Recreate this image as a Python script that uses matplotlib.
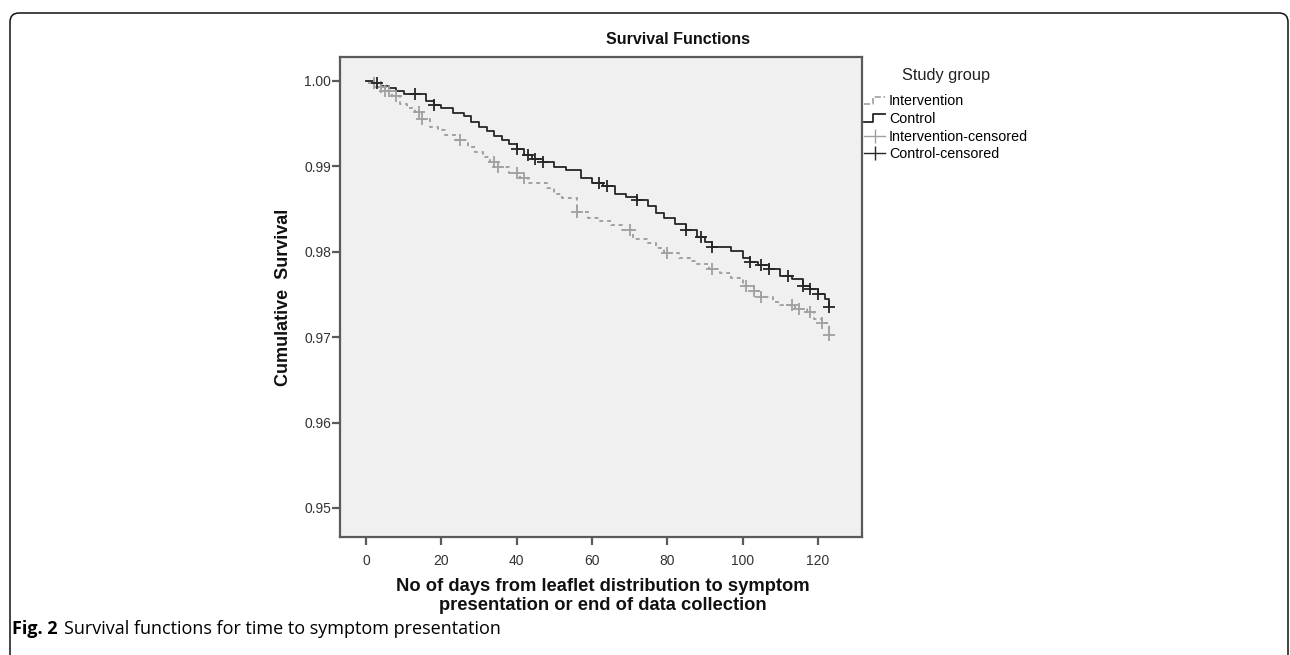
"""
Kaplan-Meier style survival functions (time to symptom presentation),
intervention vs control, with censoring marks.
"""

import numpy as np
import matplotlib
matplotlib.use("Agg")
import matplotlib.pyplot as plt
from matplotlib.lines import Line2D
from matplotlib.legend_handler import HandlerBase
from matplotlib.patches import FancyBboxPatch

# step data: (day of event, survival after the drop)
control_t = [0, 2, 4, 6, 8, 10, 16, 18, 20, 23, 26, 28, 30, 32, 34, 36, 38, 40,
             42, 44, 47, 50, 53, 57, 60, 63, 66, 69, 72, 75, 77, 79, 82, 85, 88,
             90, 92, 97, 100, 102, 104, 107, 110, 113, 116, 118, 120, 122, 123]
control_s = [1.0000, 0.9997, 0.9994, 0.9992, 0.9988, 0.9985, 0.9977, 0.9972,
             0.9968, 0.9963, 0.9959, 0.9952, 0.9946, 0.9941, 0.9936, 0.9931,
             0.9926, 0.9920, 0.9913, 0.9909, 0.9905, 0.9899, 0.9896, 0.9886,
             0.9881, 0.9877, 0.9868, 0.9864, 0.9860, 0.9853, 0.9845, 0.9840,
             0.9832, 0.9825, 0.9817, 0.9811, 0.9805, 0.9801, 0.9793, 0.9788,
             0.9784, 0.9780, 0.9772, 0.9768, 0.9760, 0.9756, 0.9751, 0.9745,
             0.9735]

interv_t = [0, 1, 3, 5, 7, 9, 11, 13, 15, 17, 19, 21, 24, 27, 29, 31, 33, 35,
            38, 41, 43, 48, 50, 52, 56, 59, 62, 65, 68, 71, 75, 77, 79, 83, 86,
            88, 91, 94, 97, 100, 103, 105, 108, 110, 114, 117, 119, 121, 123]
interv_s = [1.0000, 0.9997, 0.9993, 0.9988, 0.9982, 0.9973, 0.9968, 0.9964,
            0.9955, 0.9946, 0.9942, 0.9937, 0.9931, 0.9923, 0.9917, 0.9911,
            0.9905, 0.9899, 0.9892, 0.9886, 0.9880, 0.9875, 0.9868, 0.9863,
            0.9846, 0.9840, 0.9836, 0.9831, 0.9825, 0.9815, 0.9810, 0.9804,
            0.9799, 0.9793, 0.9789, 0.9786, 0.9780, 0.9775, 0.9769, 0.9760,
            0.9754, 0.9747, 0.9741, 0.9738, 0.9733, 0.9729, 0.9721, 0.9717,
            0.9703]

# censoring times
control_cens = [3, 13, 18, 40, 43, 45, 47, 62, 64, 72, 85, 89, 92, 102, 105,
                107, 112, 116, 118, 120, 123]
interv_cens = [2, 4, 5, 6, 8, 14, 15, 25, 34, 35, 40, 42, 56, 70, 80, 92, 101,
               103, 105, 113, 115, 118, 121, 123]

x_ticks = [0, 20, 40, 60, 80, 100, 120]
y_ticks = [0.95, 0.96, 0.97, 0.98, 0.99, 1.00]

W, H = 1290, 655
GREY = "#a0a0a0"
DARK = "#262626"
SPINE = "#5a5a5a"

plt.rcParams["font.family"] = ["Liberation Sans", "DejaVu Sans"]


def surv_at(times, surv, t):
    idx = np.searchsorted(times, t, side="right") - 1
    return np.asarray(surv)[idx]


class StepHandler(HandlerBase):
    """Legend handle drawn as a little step, like SPSS does."""

    def create_artists(self, legend, orig, xd, yd, width, height, fontsize, trans):
        x = [xd, xd + width * 0.4, xd + width * 0.4, xd + width]
        y = [yd + height * 0.1, yd + height * 0.1, yd + height * 0.85, yd + height * 0.85]
        ln = Line2D(x, y, color=orig.get_color(), lw=orig.get_linewidth(),
                    linestyle=orig.get_linestyle(), transform=trans)
        return [ln]


fig = plt.figure(figsize=(W / 100, H / 100), dpi=100)
ax = fig.add_axes([340 / W, 1 - 537 / H, (862 - 340) / W, (537 - 57) / H])
ax.set_facecolor("#f0f0f0")

ax.step(interv_t, interv_s, where="post", color=GREY, lw=1.4,
        linestyle=(0, (2, 2)))
ax.step(control_t, control_s, where="post", color=DARK, lw=1.3)

ax.plot(interv_cens, surv_at(interv_t, interv_s, interv_cens), linestyle="none",
        marker="+", ms=9, mew=1.3, color=GREY)
ax.plot(control_cens, surv_at(control_t, control_s, control_cens), linestyle="none",
        marker="+", ms=9, mew=1.3, color=DARK)

ax.set_xlim(-6.9, 131.7)
ax.set_ylim(0.9466, 1.0028)
ax.set_xticks(x_ticks)
ax.set_yticks(y_ticks)
ax.set_yticklabels([f"{v:.2f}" for v in y_ticks])
ax.tick_params(direction="out", length=5.5, width=1.6, color=SPINE,
               labelsize=10, labelcolor="#333333")
ax.tick_params(axis="x", pad=7)
ax.tick_params(axis="y", pad=1)
for sp in ax.spines.values():
    sp.set_color(SPINE)
    sp.set_linewidth(1.6)

fig.text(678 / W, 1 - 40 / H, "Survival Functions", ha="center", va="center",
         fontsize=11.5, fontweight="bold", color="#111111")
fig.text(283 / W, 1 - 297 / H, "Cumulative  Survival", rotation=90,
         ha="center", va="center", fontsize=13, fontweight="bold", color="#111111")
fig.text(603 / W, 1 - 596 / H,
         "No of days from leaflet distribution to symptom\npresentation or end of data collection",
         ha="center", va="center", fontsize=13.2, fontweight="bold",
         linespacing=1.2, color="#111111")

handles = [
    Line2D([], [], color=GREY, lw=1.2, linestyle=(0, (2, 2))),
    Line2D([], [], color=DARK, lw=1.3),
    Line2D([], [], color=GREY, lw=1.0, marker="|", ms=10, mew=1.0),
    Line2D([], [], color=DARK, lw=1.0, marker="|", ms=10, mew=1.0),
]
labels = ["Intervention", "Control", "Intervention-censored", "Control-censored"]
leg = fig.legend(handles, labels, title="Study group", loc="upper left",
                 bbox_to_anchor=(864 / W, 1 - 68 / H), frameon=False,
                 fontsize=10.3, title_fontsize=11.8, handlelength=1.5,
                 handletextpad=0.25, labelspacing=0.26, borderpad=0,
                 borderaxespad=0, numpoints=1,
                 handler_map={handles[0]: StepHandler(), handles[1]: StepHandler()})
leg.get_title().set_color("#222222")
leg._legend_box.sep = 8

# caption: bold "Fig. 2" then regular text
cap_font = ["Open Sans", "DejaVu Sans"]
t1 = fig.text(12 / W, 1 - 629 / H, "Fig. 2", ha="left", va="center",
              fontsize=13, fontweight="bold", family=cap_font)
fig.canvas.draw()
bb = t1.get_window_extent(fig.canvas.get_renderer())
fig.text(bb.x1 / W + 6 / W, 1 - 629 / H, "Survival functions for time to symptom presentation",
         ha="left", va="center", fontsize=13, family=cap_font)

# rounded frame around the figure (open at the bottom)
frame = FancyBboxPatch((0.10, -0.3), 12.78, 6.55 - 0.13 + 0.3,
                       boxstyle="round,pad=0,rounding_size=0.09",
                       transform=fig.dpi_scale_trans, fill=False,
                       edgecolor="#111111", lw=1.1)
fig.patches.append(frame)

fig.savefig("out.png", dpi=100)
